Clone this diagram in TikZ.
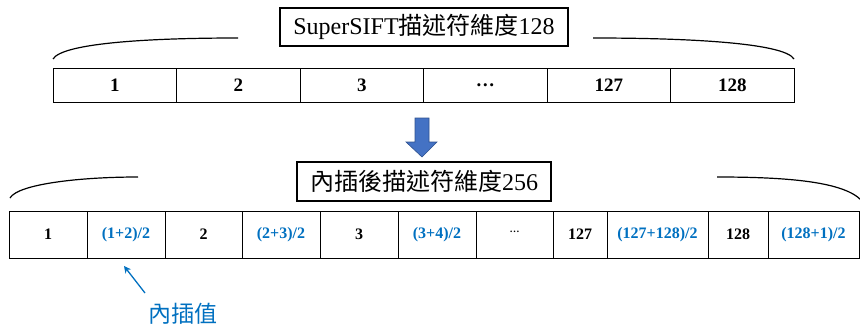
\documentclass[tikz,border=0pt]{standalone}
\usepackage{fontspec}
\setmainfont{Liberation Serif}
\newfontfamily\cjk{Noto Sans CJK TC}
\usetikzlibrary{arrows.meta}
\definecolor{valblue}{RGB}{0,112,192}
\definecolor{arrfill}{RGB}{68,114,196}
\definecolor{arrline}{RGB}{47,82,143}
\begin{document}
\begin{tikzpicture}[x=1pt,y=-1pt,
  topcell/.style={draw, line width=0.9pt, minimum height=34pt, inner sep=0pt, font=\fontsize{19}{19}\selectfont\bfseries},
  botcell/.style={draw, line width=0.9pt, minimum height=47pt, inner sep=0pt, font=\fontsize{16}{16}\selectfont\bfseries},
  interp/.style={botcell, text=valblue},
  titlebox/.style={draw, line width=1.3pt, inner sep=0pt, font=\fontsize{24}{24}\selectfont},
  brace/.style={line width=1.2pt},
]
\useasboundingbox (0,0) rectangle (860,329);
% top title
\node[titlebox, minimum width=288pt, minimum height=38pt] (ttl) at (424,27) {SuperSIFT{\cjk 描述符維度}128};
% top row
\node[topcell, minimum width=123.5pt] (t1) at (114.75,85) {1};
\node[topcell, minimum width=123.5pt] (t2) at (238.25,85) {2};
\node[topcell, minimum width=123.5pt] (t3) at (361.75,85) {3};
\node[topcell, minimum width=123.5pt] (t4) at (485.25,85) {…};
\node[topcell, minimum width=123.5pt] (t5) at (608.75,85) {127};
\node[topcell, minimum width=123.5pt] (t6) at (732.25,85) {128};
% top braces
\coordinate (tla) at (53,59);
\coordinate (tlb) at (238,38);
\coordinate (tra) at (593,38);
\coordinate (trb) at (794,59);
\draw[brace] (tla) .. controls (62,44) and (140,38) .. (tlb);
\draw[brace] (tra) .. controls (700,38) and (785,44) .. (trb);
% blue block arrow
\fill[arrfill, draw=arrline, line width=0.6pt] (415,118) -- (429,118) -- (429,142) -- (437,142) -- (422,157) -- (406,142) -- (415,142) -- cycle;
% bottom title
\node[titlebox, minimum width=254pt, minimum height=39pt] (btl) at (424,181.5) {{\cjk 內插後描述符維度}256};
% bottom row
\node[botcell, minimum width=78pt] (b1) at (48,234.5) {1};
\node[interp, minimum width=78pt] (b2) at (126,234.5) {(1+2)/2};
\node[botcell, minimum width=77pt] (b3) at (203.5,234.5) {2};
\node[interp, minimum width=78pt] (b4) at (281,234.5) {(2+3)/2};
\node[botcell, minimum width=78pt] (b5) at (359,234.5) {3};
\node[interp, minimum width=78pt] (b6) at (437,234.5) {(3+4)/2};
\node[botcell, minimum width=77pt] (b7) at (514.5,234.5) {\raisebox{6pt}{\fontsize{10}{10}\selectfont …}};
\node[botcell, minimum width=54pt] (b8) at (580,234.5) {127};
\node[interp, minimum width=101pt] (b9) at (657.5,234.5) {(127+128)/2};
\node[botcell, minimum width=60pt] (b10) at (738,234.5) {128};
\node[interp, minimum width=91pt] (b11) at (813.5,234.5) {(128+1)/2};
% bottom braces
\coordinate (bla) at (10,198);
\coordinate (blb) at (138,177);
\coordinate (bra) at (717,177);
\coordinate (brb) at (862,201);
\draw[brace] (bla) .. controls (18,184) and (80,177) .. (blb);
\draw[brace] (bra) .. controls (790,177) and (845,182) .. (brb);
% annotation
\node[text=valblue, inner sep=0pt, font=\fontsize{23}{23}\cjk] (lbl) at (183,314) {內插值};
\coordinate (pa) at (145,293);
\coordinate (pb) at (124,266);
\draw[valblue, line width=1.3pt, -{Stealth[length=7pt,width=7pt]}] (pa) -- (pb);
\end{tikzpicture}
\end{document}
